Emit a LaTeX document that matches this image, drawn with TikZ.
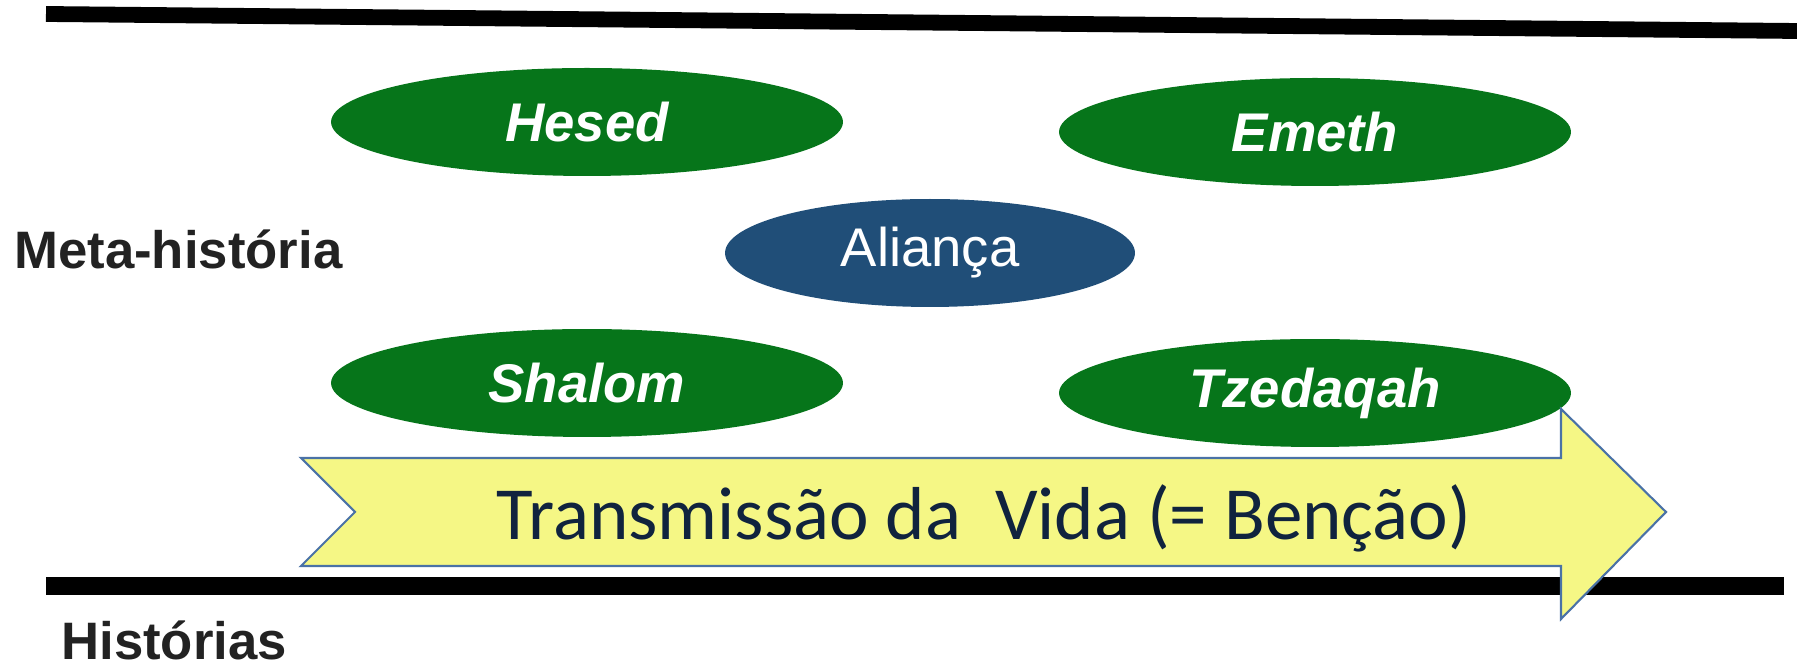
\documentclass[tikz,border=0pt]{standalone}
\usepackage{fontspec}
\setmainfont{Liberation Sans}
\newfontfamily\calibrifont{Carlito}
\usetikzlibrary{shapes.geometric}

\definecolor{virtuegreen}{HTML}{06751A}
\definecolor{aliancablue}{HTML}{204E78}
\definecolor{arrowfill}{HTML}{F5F785}
\definecolor{arrowedge}{HTML}{4A72A6}
\definecolor{arrowtext}{HTML}{10233E}
\definecolor{labelgrey}{HTML}{222222}

\begin{document}
\begin{tikzpicture}[x=0.02cm, y=0.02cm,
    virtue/.style={ellipse, fill=virtuegreen, text=white, inner sep=0pt,
      minimum width=10.24cm, minimum height=2.16cm,
      font=\fontsize{31}{36}\selectfont\bfseries\itshape},
    alianca/.style={ellipse, fill=aliancablue, text=white, inner sep=0pt,
      minimum width=8.2cm, minimum height=2.16cm,
      font=\fontsize{31}{36}\selectfont},
    level/.style={anchor=base west, text=labelgrey, inner sep=0pt,
      font=\fontsize{30}{36}\selectfont\bfseries}]

		  \useasboundingbox (0,0) rectangle (1797,668);

		  % Lines
		  \draw[line width=9] (46,654) -- (1797,637);
		  \draw[line width=10] (46,82) -- (1784,82);

		  % Nodes virtues
		  \node[virtue] (hesed) at (587,546) {Hesed};
		  \node[virtue] (emeth) at (1315,536) {Emeth};
		  \node[alianca] (alianca) at (930,415) {Aliança};
		  \node[virtue] (shalom) at (587,285) {Shalom};
		  \node[virtue] (tzedaqah) at (1315,275) {Tzedaqah};

		  % Arrow
		  \draw[fill=arrowfill, draw=arrowedge, line width=1.2pt, line join=miter]
		    (301,210) -- (1561,210) -- (1561,259) -- (1666,156) -- (1561,49)
		    -- (1561,102) -- (301,102) -- (355,156) -- cycle;
		  \node[text=arrowtext, font=\calibrifont\fontsize{42.7}{50}\selectfont]
		    (vida) at (984,150) {Transmissão da\ \ Vida (= Benção)};

		  % Levels
		  \node[level] (meta) at (14,399) {Meta-história};
		  \node[level] (historias) at (61,8) {Histórias};

		\end{tikzpicture}
\end{document}
